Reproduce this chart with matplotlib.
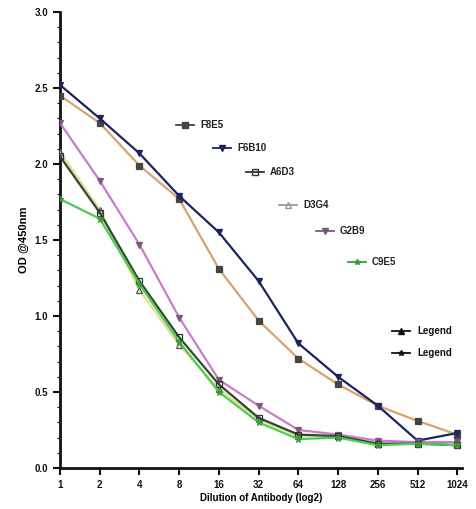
import matplotlib
matplotlib.use("Agg")
import matplotlib.pyplot as plt
import numpy as np

plt.rcParams['font.family'] = ['Liberation Sans', 'DejaVu Sans']
plt.rcParams['font.weight'] = 'bold'

dilutions = ["1", "2", "4", "8", "16", "32", "64", "128", "256", "512", "1024"]
F8E5 = [2.45, 2.27, 1.99, 1.77, 1.31, 0.97, 0.72, 0.55, 0.41, 0.31, 0.22]
F6B10 = [2.52, 2.30, 2.07, 1.79, 1.55, 1.23, 0.82, 0.60, 0.41, 0.18, 0.23]
A6D3 = [2.05, 1.68, 1.23, 0.86, 0.55, 0.33, 0.22, 0.21, 0.16, 0.16, 0.15]
D3G4 = [2.08, 1.70, 1.17, 0.81, 0.52, 0.32, 0.21, 0.21, 0.16, 0.16, 0.15]
G2B9 = [2.27, 1.89, 1.47, 0.99, 0.58, 0.41, 0.25, 0.22, 0.18, 0.17, 0.17]
C9E5 = [1.77, 1.64, 1.21, 0.83, 0.50, 0.30, 0.19, 0.20, 0.15, 0.16, 0.15]

series = [
    ("F8E5", F8E5, '#D9A36E', 's', '#444444', 'full'),
    ("F6B10", F6B10, '#1C2262', 'v', '#1C2262', 'full'),
    ("A6D3", A6D3, '#2E4A2E', 's', '#333333', 'none'),
    ("D3G4", D3G4, '#E6DC9A', '^', '#555555', 'none'),
    ("G2B9", G2B9, '#CC7ACC', 'v', '#7A5A7A', 'full'),
    ("C9E5", C9E5, '#4FCB4F', '*', '#3A9A3A', 'full'),
]

fig = plt.figure(figsize=(4.77, 5.09), dpi=100)
ax = fig.add_axes([60/477, 41/509, 402/477, 456/509])

x = np.arange(len(dilutions))
order = [3, 0, 1, 4, 2, 5]
for i in order:
    name, vals, col, mk, mcol, fill = series[i]
    ax.plot(x, vals, color=col, lw=1.6, marker=mk, markersize=4 if mk != '*' else 5,
            markerfacecolor=(mcol if fill == 'full' else 'none'),
            markeredgecolor=mcol, markeredgewidth=0.9, zorder=3)

# floating legend entries (pixel positions converted to axes fraction)
def px2ax(px, py):
    return (px - 60) / 402, (468 - py) / 456

leg_pos = [(185, 125), (222, 148), (255, 172), (288, 205), (325, 231), (357, 262)]
for (name, vals, col, mk, mcol, fill), (px, py) in zip(series, leg_pos):
    x0, y0 = px2ax(px - 9, py)
    x1, y1 = px2ax(px + 9, py)
    xm, ym = px2ax(px, py)
    lcol = mcol if name not in ("D3G4",) else '#999999'
    ax.plot([x0, x1], [y0, y1], color=lcol, lw=1.3, transform=ax.transAxes, clip_on=False)
    ax.plot([xm], [ym], marker=mk, color=lcol, markersize=4,
            markerfacecolor=(lcol if fill == 'full' else 'none'),
            markeredgecolor=lcol, transform=ax.transAxes, clip_on=False)
    tx, ty = px2ax(px + 15, py)
    ax.text(tx, ty, name, transform=ax.transAxes, fontsize=7, fontweight='bold',
            va='center', ha='left', color='#222222')

extra = [(401, 331, '^'), (401, 353, '*')]
for px, py, mk in extra:
    x0, y0 = px2ax(px - 9, py)
    x1, y1 = px2ax(px + 9, py)
    xm, ym = px2ax(px, py)
    ax.plot([x0, x1], [y0, y1], color='#111111', lw=1.3, transform=ax.transAxes, clip_on=False)
    ax.plot([xm], [ym], marker=mk, color='#111111', markersize=4,
            transform=ax.transAxes, clip_on=False)
    tx, ty = px2ax(px + 16, py)
    ax.text(tx, ty, "Legend", transform=ax.transAxes, fontsize=7, fontweight='bold',
            va='center', ha='left', color='#111111')

ax.set_xlim(0, 10.12)
ax.set_ylim(0, 3.0)
ax.set_xticks(x)
ax.set_xticklabels(dilutions)
ax.set_yticks(np.arange(0, 3.01, 0.5))
ax.set_yticklabels([f"{v:.1f}" for v in np.arange(0, 3.01, 0.5)])
ax.set_yticks(np.arange(0, 3.01, 0.1), minor=True)

for s in ['top', 'right']:
    ax.spines[s].set_visible(False)
for s in ['left', 'bottom']:
    ax.spines[s].set_linewidth(2)
    ax.spines[s].set_color('#111111')

ax.tick_params(axis='both', which='major', direction='out', length=5, width=1.5,
               labelsize=7, colors='#111111')
ax.tick_params(axis='y', which='minor', direction='out', length=2, width=0.8)
for lab in ax.get_xticklabels() + ax.get_yticklabels():
    lab.set_fontweight('bold')

ax.set_xlabel("Dilution of Antibody (log2)", fontsize=7, fontweight='bold', labelpad=2)
ax.set_ylabel("OD @450nm", fontsize=8, fontweight='bold', labelpad=4)

fig.savefig("out.png", dpi=100)
